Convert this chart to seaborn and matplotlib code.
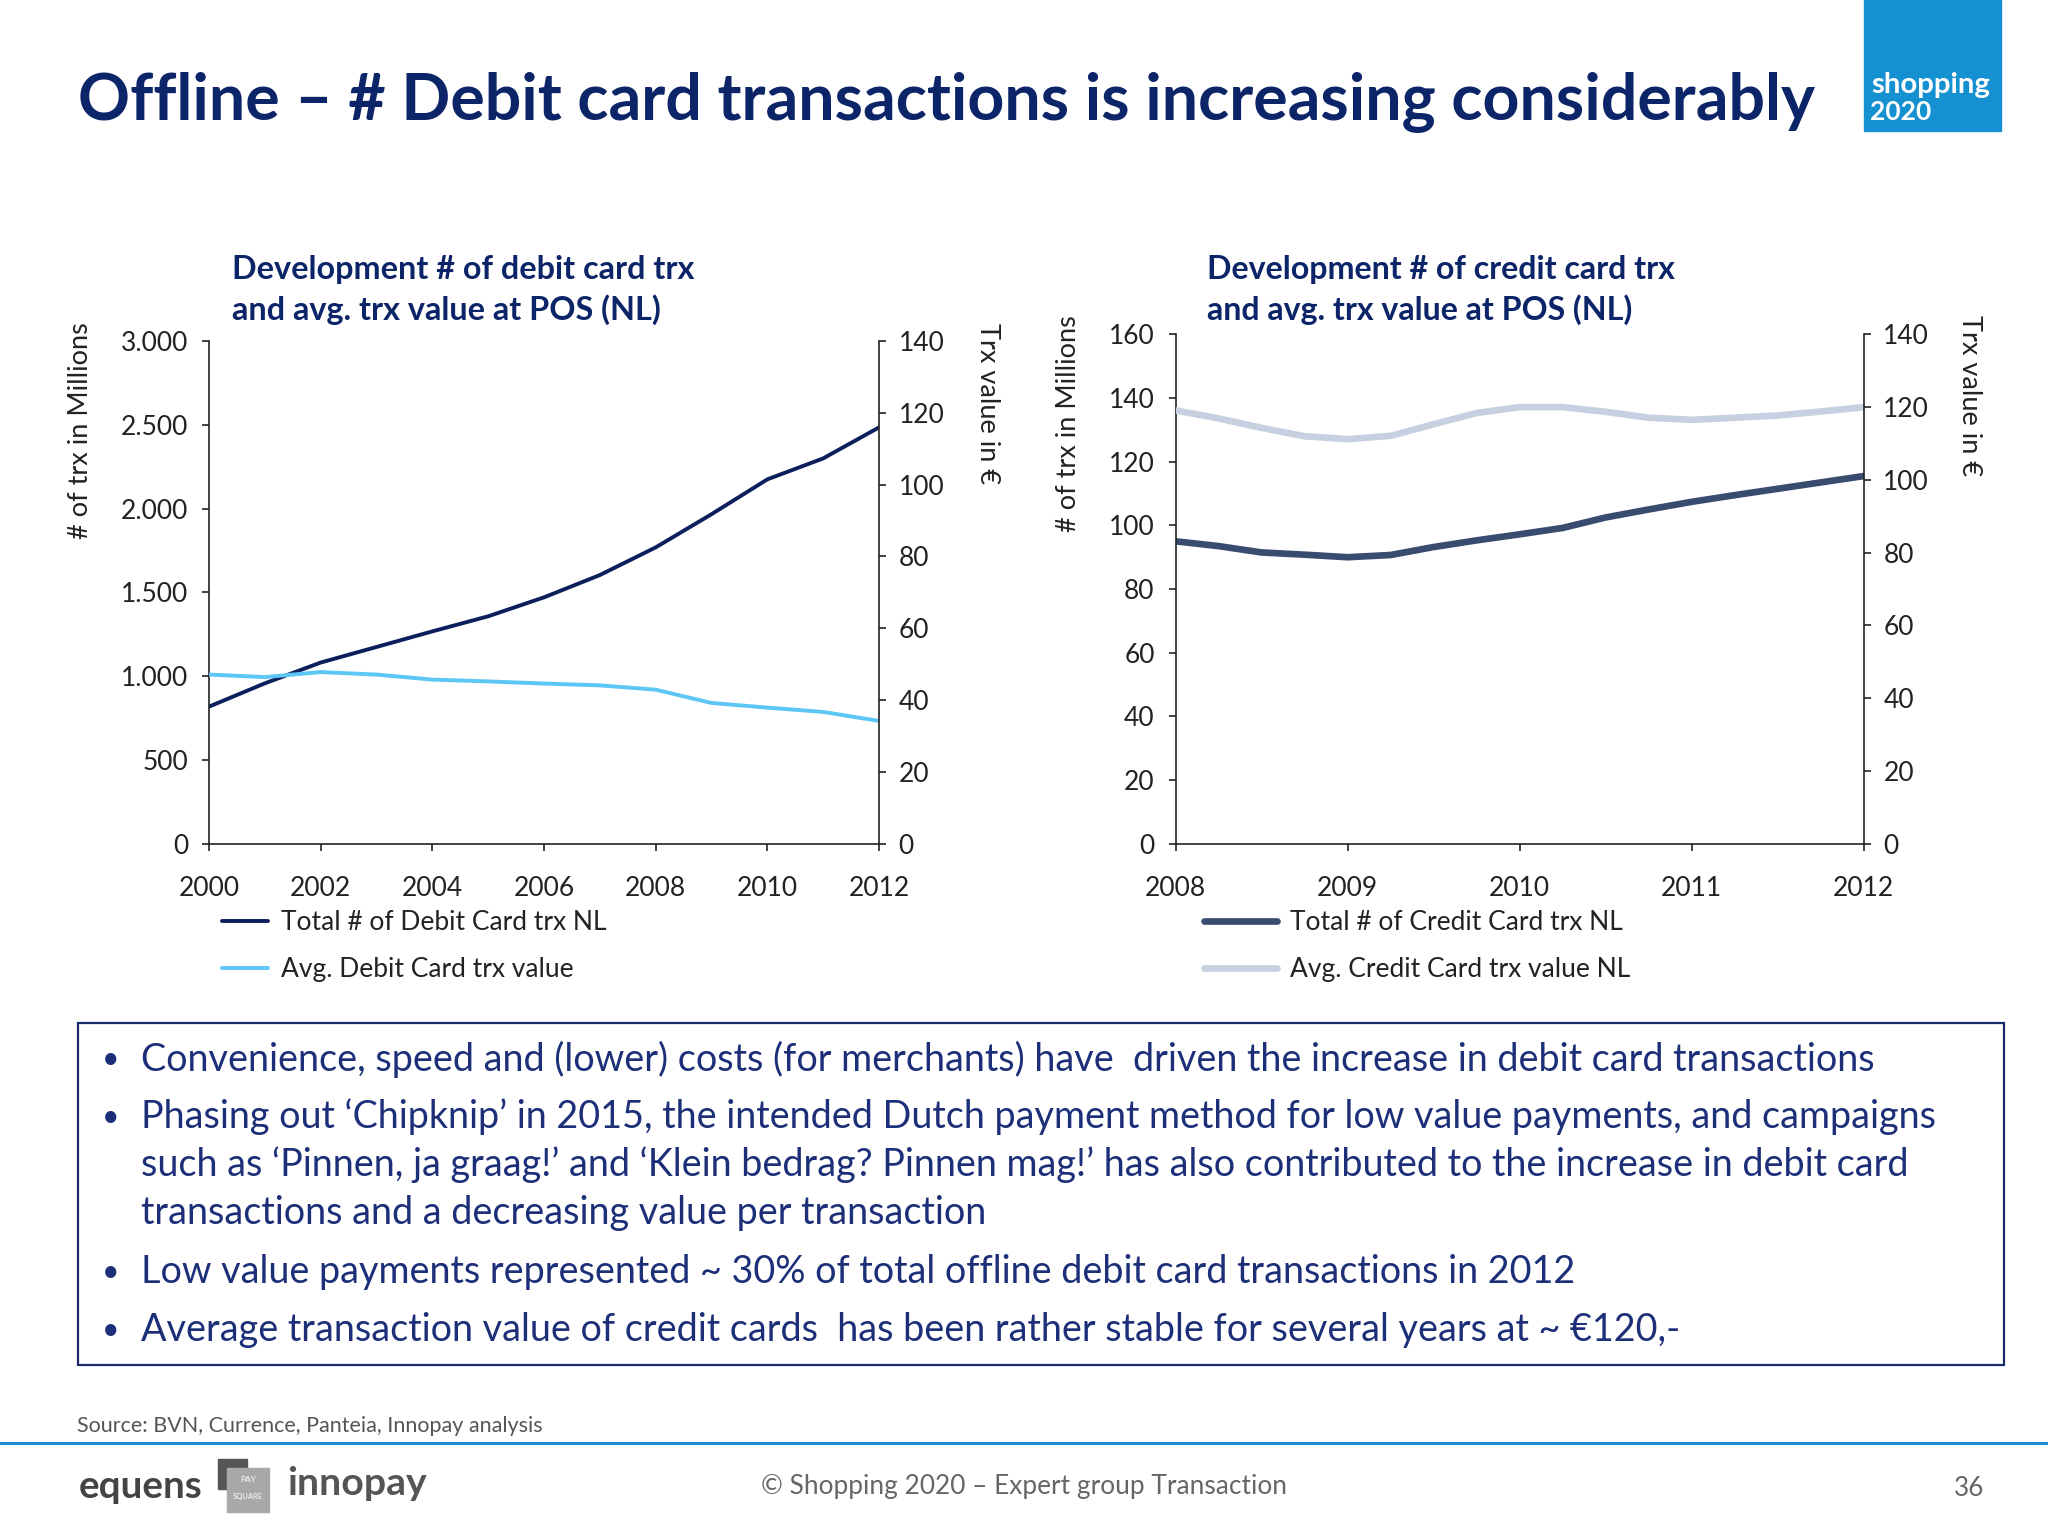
import matplotlib
matplotlib.use("Agg")
import matplotlib.pyplot as plt
import matplotlib.ticker as mticker
from matplotlib.patches import Rectangle
import seaborn as sns
import pandas as pd

sns.set_style("ticks")
plt.rcParams['font.family'] = ['Lato', 'DejaVu Sans']

# data
debit_years = [2000, 2001, 2002, 2003, 2004, 2005, 2006, 2007, 2008, 2009, 2010, 2011, 2012]
debit_total = [818, 957, 1081, 1174, 1267, 1357, 1470, 1603, 1768, 1966, 2174, 2299, 2484]
debit_avg = [47.1, 46.4, 47.8, 47.1, 45.7, 45.2, 44.6, 44.1, 42.9, 39.2, 37.9, 36.7, 34.2]

credit_periods = [2008.0, 2008.25, 2008.5, 2008.75, 2009.0, 2009.25, 2009.5, 2009.75, 2010.0,
                  2010.25, 2010.5, 2010.75, 2011.0, 2011.25, 2011.5, 2011.75, 2012.0]
credit_total = [95.0, 93.5, 91.5, 90.8, 90.0, 90.7, 93.2, 95.3, 97.2,
                99.2, 102.5, 105.0, 107.4, 109.5, 111.5, 113.5, 115.5]
credit_avg = [119.1, 116.9, 114.3, 112.0, 111.2, 112.1, 115.3, 118.4, 120.0,
              120.0, 118.7, 117.1, 116.5, 117.1, 117.7, 118.8, 120.0]

bullets = [
    "Convenience, speed and (lower) costs (for merchants) have  driven the increase in debit card transactions",
    "Phasing out \u2018Chipknip\u2019 in 2015, the intended Dutch payment method for low value payments, and campaigns\n"
    "such as \u2018Pinnen, ja graag!\u2019 and \u2018Klein bedrag? Pinnen mag!\u2019 has also contributed to the increase in debit card\n"
    "transactions and a decreasing value per transaction",
    "Low value payments represented ~ 30% of total offline debit card transactions in 2012",
    "Average transaction value of credit cards  has been rather stable for several years at ~ \u20ac120,-",
]

debit = pd.DataFrame({'year': debit_years, 'total': debit_total, 'avg': debit_avg})
credit = pd.DataFrame({'period': credit_periods, 'total': credit_total, 'avg': credit_avg})

NAVY = '#0c2468'
TXT = '#1c2f78'

fig = plt.figure(figsize=(20.48, 15.36), dpi=100)
W, H = 1568.0, 1176.0
def X(x):
    return x / W
def Y(y):
    return 1 - y / H
S = 2048.0 / 1568.0

def fit(t, target):
    r = fig.canvas.get_renderer()
    w = t.get_window_extent(r).width
    t.set_fontsize(t.get_fontsize() * target * S / w)
    return t.get_fontsize()

title = fig.text(X(60), Y(92), "Offline \u2013 # Debit card transactions is increasing considerably",
                 fontsize=44, fontweight='bold', color=NAVY, va='baseline', ha='left')
fit(title, 1330)

# logo box
fig.patches.append(Rectangle((X(1427), Y(100)), X(1532) - X(1427), Y(0) - Y(100),
                             transform=fig.transFigure, color='#1590d0', zorder=1))
sh = fig.text(X(1433), Y(65), "shopping", color='white', fontsize=14, fontweight='bold',
              ha='left', va='center', zorder=2)
fit(sh, 92)
fig.text(X(1432), Y(86), "2020", color='white', fontsize=19, fontweight='bold',
         ha='left', va='center', zorder=2)

tick_fs = 19
leg_fs = 19


def style(ax, axr):
    for a in (ax, axr):
        a.spines['top'].set_visible(False)
        for s in ('left', 'right', 'bottom'):
            a.spines[s].set_linewidth(1.2)
            a.spines[s].set_color('#222222')
        a.tick_params(direction='out', length=5, width=1.2, colors='#222222',
                      labelsize=tick_fs, pad=9)
    ax.spines['right'].set_visible(False)
    axr.spines['left'].set_visible(False)
    axr.spines['bottom'].set_visible(False)
    ax.tick_params(axis='y', pad=10)
    ax.tick_params(axis='x', pad=18)


# left chart: debit
ax1 = fig.add_axes([X(160), Y(646), X(673) - X(160), Y(261) - Y(646)])
sns.lineplot(data=debit, x='year', y='total', ax=ax1, color='#0c1f5c', lw=2.8,
             label='Total # of Debit Card trx NL', legend=False)
ax1r = ax1.twinx()
sns.lineplot(data=debit, x='year', y='avg', ax=ax1r, color='#5cc6f4', lw=2.8,
             label='Avg. Debit Card trx value', legend=False)
ax1.set_xlim(2000, 2012)
ax1.set_ylim(0, 3000)
ax1r.set_ylim(0, 140)
ax1.set_xticks(range(2000, 2013, 2))
ax1.set_yticks(range(0, 3001, 500))
ax1.yaxis.set_major_formatter(mticker.FuncFormatter(lambda v, p: f"{int(v):,}".replace(',', '.')))
ax1r.set_yticks(range(0, 141, 20))
ax1.set_xlabel('')
ax1.set_ylabel('')
ax1r.set_ylabel('')
style(ax1, ax1r)

# right chart: credit
ax2 = fig.add_axes([X(900), Y(646), X(1427) - X(900), Y(256) - Y(646)])
sns.lineplot(data=credit, x='period', y='total', ax=ax2, color='#3a4b70', lw=4.8,
             label='Total # of Credit Card trx NL', legend=False)
ax2r = ax2.twinx()
sns.lineplot(data=credit, x='period', y='avg', ax=ax2r, color='#c6d0e1', lw=4.8,
             label='Avg. Credit Card trx value NL', legend=False)
ax2.set_xlim(2008, 2012)
ax2.set_ylim(0, 160)
ax2r.set_ylim(0, 140)
ax2.set_xticks(range(2008, 2013))
ax2.xaxis.set_major_formatter(mticker.FuncFormatter(lambda v, p: f"{int(v)}"))
ax2.set_yticks(range(0, 161, 20))
ax2r.set_yticks(range(0, 141, 20))
ax2.set_xlabel('')
ax2.set_ylabel('')
ax2r.set_ylabel('')
style(ax2, ax2r)

# chart titles and axis labels
for x0, name in ((178, 'debit'), (924, 'credit')):
    t = fig.text(X(x0), Y(206), f"Development # of {name} card trx", fontsize=21,
                 fontweight='bold', color=NAVY, va='center', ha='left')
    fs = fit(t, 353 if name == 'debit' else 358)
    fig.text(X(x0), Y(237), "and avg. trx value at POS (NL)", fontsize=fs,
             fontweight='bold', color=NAVY, va='center', ha='left')

for x0, y0 in ((62, 247), (818, 241)):
    fig.text(X(x0), Y(y0), "# of trx in Millions", rotation=90, fontsize=19.5,
             color='#222222', ha='center', va='top')
for x0, y0 in ((756, 247), (1508, 241)):
    fig.text(X(x0), Y(y0), "Trx value in \u20ac", rotation=270, fontsize=19.5,
             color='#222222', ha='center', va='top')

# legends
for ax, axr, x0, lw, hl in ((ax1, ax1r, 170, 2.8, 1.75), (ax2, ax2r, 922, 4.8, 2.75)):
    handles = ax.get_lines()[:1] + axr.get_lines()[:1]
    leg = ax.legend(handles=handles, labels=[h.get_label() for h in handles],
                    loc='upper left', bbox_to_anchor=(X(x0), Y(697)),
                    bbox_transform=fig.transFigure, frameon=False, fontsize=leg_fs,
                    handlelength=hl, handletextpad=0.5,
                    labelspacing=0.82, borderpad=0, borderaxespad=0)
    for h in leg.get_lines():
        h.set_linewidth(lw)
    for t in leg.get_texts():
        t.set_color('#222222')

# text box
fig.patches.append(Rectangle((X(60), Y(1045)), X(1534) - X(60), Y(783) - Y(1045),
                             transform=fig.transFigure, fill=False, edgecolor='#1b2a6b',
                             lw=1.6, zorder=1))
line_y = [[811], [855, 892, 929], [974], [1018]]
first = fig.text(X(108), Y(811), bullets[0], fontsize=24, color=TXT, va='center', ha='left')
bfs = fit(first, 1329)
for i, (txt, ys) in enumerate(zip(bullets, line_y)):
    fig.text(X(78), Y(ys[0]), "\u2022", fontsize=bfs * 0.8, color=TXT, va='center', ha='left')
    if i == 0:
        continue
    for j, part in enumerate(txt.split('\n')):
        fig.text(X(108), Y(ys[j]), part, fontsize=bfs, color=TXT, va='center', ha='left')

# footer
src = fig.text(X(59), Y(1092), "Source: BVN, Currence, Panteia, Innopay analysis",
               fontsize=12, color='#555555', va='center', ha='left')
fit(src, 354)
fig.add_artist(plt.Line2D([0, 1], [Y(1105), Y(1105)], transform=fig.transFigure,
                          color='#1a8ad4', lw=2.2))
eq = fig.text(X(60), Y(1138), "equens", fontsize=20, fontweight='bold', color='#444444',
              va='center', ha='left')
fit(eq, 95)
fig.patches.append(Rectangle((X(167), Y(1140)), X(189) - X(167), Y(1117) - Y(1140),
                             transform=fig.transFigure, color='#555555', zorder=1))
fig.patches.append(Rectangle((X(174), Y(1158)), X(206) - X(174), Y(1124) - Y(1158),
                             transform=fig.transFigure, color='#a8a8a8', zorder=2))
fig.text(X(190), Y(1133), "PAY", fontsize=6, color='white', ha='center', va='center', zorder=3)
fig.text(X(190), Y(1146), "SQUARE", fontsize=5.5, color='white', ha='center', va='center', zorder=3)
inn = fig.text(X(220), Y(1136), "innopay", fontsize=20, fontweight='bold', color='#555555',
               va='center', ha='left')
fit(inn, 107)
cp = fig.text(X(583), Y(1138), "\u00a9 Shopping 2020 \u2013 Expert group Transaction",
              fontsize=16, color='#666666', va='center', ha='left')
fit(cp, 404)
fig.text(X(1519), Y(1140), "36", fontsize=cp.get_fontsize(), color='#666666',
         va='center', ha='right')

fig.savefig("out.png", dpi=100)
